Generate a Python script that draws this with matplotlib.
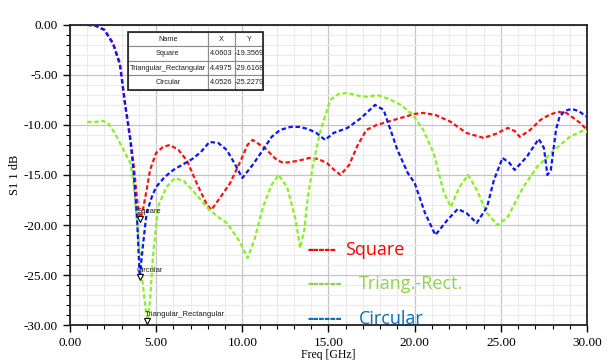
import numpy as np
import matplotlib
matplotlib.use("Agg")
import matplotlib.pyplot as plt
from matplotlib.ticker import MultipleLocator, FormatStrFormatter

# Square patch: S11 (dB) vs frequency (GHz)
sq_f = [1.0, 1.5, 2.0, 2.5, 2.9, 3.2, 3.5, 3.7, 3.9, 4.06, 4.2, 4.45, 4.65, 5.0,
        5.4, 5.8, 6.3, 6.8, 7.4, 7.9, 8.2, 8.7, 9.3, 9.9, 10.3, 10.6, 11.3, 12.0,
        12.4, 13.2, 13.9, 14.4, 14.9, 15.4, 15.7, 16.2, 16.7, 17.2, 17.8, 18.4,
        19.2, 20.0, 20.5, 21.2, 22.1, 23.0, 24.0, 24.7, 25.4, 25.8, 26.1, 26.7,
        27.3, 27.8, 28.3, 28.8, 29.2, 29.6, 30.0]
sq_db = [0.0, -0.1, -0.5, -1.8, -3.8, -7.8, -11.2, -14.0, -17.5, -19.36, -18.8,
         -16.5, -14.5, -12.8, -12.2, -12.0, -12.5, -13.6, -16.0, -17.8, -18.5,
         -17.3, -15.8, -13.6, -12.0, -11.5, -12.3, -13.5, -13.8, -13.6, -13.3,
         -13.4, -13.8, -14.6, -15.0, -14.0, -12.0, -10.5, -10.0, -9.7, -9.3, -8.9,
         -8.8, -9.0, -9.7, -10.8, -11.3, -10.9, -10.3, -10.6, -11.2, -10.5, -9.5,
         -9.0, -8.7, -8.8, -9.3, -9.8, -10.5]

# Triangular_Rectangular patch
tr_f = [1.0, 1.5, 1.9, 2.2, 2.6, 2.9, 3.2, 3.5, 3.7, 3.95, 4.2, 4.4, 4.5, 4.65,
        4.8, 5.1, 5.6, 6.1, 6.6, 7.1, 7.6, 8.1, 8.6, 9.1, 9.6, 9.9, 10.3, 10.7,
        11.2, 11.7, 12.1, 12.6, 13.1, 13.35, 13.6, 13.8, 14.1, 14.5, 15.1, 15.6,
        16.1, 16.8, 17.3, 17.8, 18.5, 19.2, 19.9, 20.5, 21.1, 21.7, 22.1, 22.6,
        23.1, 23.6, 24.2, 24.8, 25.4, 26.3, 27.1, 28.1, 29.0, 29.7, 30.0]
tr_db = [-9.7, -9.7, -9.6, -9.8, -10.8, -11.8, -12.8, -13.8, -15.8, -20.8, -25.5,
         -28.5, -29.6, -27.5, -23.5, -18.2, -16.2, -15.3, -15.6, -16.5, -17.5,
         -18.5, -19.2, -19.8, -21.0, -21.8, -23.3, -21.5, -18.2, -16.0, -15.0,
         -16.2, -19.5, -22.3, -20.5, -17.2, -14.0, -10.8, -7.5, -6.9, -6.8, -7.1,
         -7.2, -7.0, -7.4, -8.0, -9.0, -10.5, -12.8, -16.8, -18.2, -16.2, -15.0,
         -16.5, -18.8, -20.0, -19.2, -16.2, -14.2, -12.5, -11.2, -10.6, -10.7]

# Circular patch
ci_f = [1.0, 1.5, 2.0, 2.5, 2.9, 3.2, 3.5, 3.7, 3.9, 4.05, 4.25, 4.45, 4.75, 5.0,
        5.5, 6.0, 6.6, 7.1, 7.6, 8.1, 8.6, 9.1, 9.6, 10.0, 10.6, 11.2, 11.7, 12.2,
        12.8, 13.3, 13.8, 14.3, 14.8, 15.3, 16.1, 16.9, 17.7, 18.2, 18.6, 19.0,
        19.6, 20.0, 20.6, 21.2, 21.9, 22.5, 23.0, 23.6, 24.2, 24.6, 25.1, 25.5,
        25.8, 26.5, 27.2, 27.5, 27.7, 27.9, 28.2, 28.4, 28.7, 29.1, 29.5, 30.0]
ci_db = [0.0, -0.1, -0.5, -1.9, -4.0, -8.0, -11.5, -14.8, -19.5, -25.2, -21.8,
         -18.8, -17.2, -16.2, -15.2, -14.5, -13.9, -13.4, -12.7, -11.7, -11.8,
         -12.5, -14.0, -15.3, -14.0, -12.5, -11.2, -10.5, -10.2, -10.2, -10.4,
         -10.8, -11.5, -10.8, -10.3, -9.3, -8.0, -8.5, -10.5, -12.5, -14.8, -15.8,
         -18.8, -21.0, -19.5, -18.4, -18.8, -19.8, -18.2, -15.5, -13.3, -13.8,
         -14.5, -13.2, -11.4, -12.3, -15.0, -14.5, -10.5, -9.2, -8.6, -8.4, -8.6,
         -9.2]

# marker table (minimum of each curve)
names = ["Square", "Triangular_Rectangular", "Circular"]
min_x = [4.0603, 4.4975, 4.0526]
min_y = [-19.3569, -29.6168, -25.2279]

serif = "Liberation Serif"

fig = plt.figure(figsize=(6.08, 3.6), dpi=100)
ax = fig.add_axes([0.115, 0.097, 0.8505, 0.834])

dash = (2.0, 1.2)
ax.plot(sq_f, sq_db, color="#ff1010", lw=1.6, dashes=dash, zorder=3)
ax.plot(tr_f, tr_db, color="#88f020", lw=1.6, dashes=dash, zorder=3)
ax.plot(ci_f, ci_db, color="#0a14ff", lw=1.6, dashes=dash, zorder=4)

# minimum markers with their names
for n, x, y in zip(names, min_x, min_y):
    ax.plot(x, y, marker="v", ms=4, mfc="white", mec="black", mew=0.8, zorder=6)
    ax.annotate(n, (x, y), xytext=(-2, 4), textcoords="offset points",
                fontsize=5.5, color="#202020", family="Liberation Sans", zorder=7)

ax.set_xlim(0, 30)
ax.set_ylim(-30, 0)
ax.xaxis.set_major_locator(MultipleLocator(5))
ax.xaxis.set_minor_locator(MultipleLocator(1))
ax.yaxis.set_major_locator(MultipleLocator(5))
ax.yaxis.set_minor_locator(MultipleLocator(1))
ax.xaxis.set_major_formatter(FormatStrFormatter("%.2f"))
ax.yaxis.set_major_formatter(FormatStrFormatter("%.2f"))
ax.grid(which="minor", color="#ebebeb", lw=0.8, zorder=0)
ax.grid(which="major", color="#c4c4c4", lw=0.9, zorder=1)
ax.tick_params(which="major", direction="out", length=5, width=1, colors="black",
               labelsize=9.5)
ax.tick_params(which="minor", direction="out", length=3, width=0.8, colors="black")
for lab in ax.get_xticklabels() + ax.get_yticklabels():
    lab.set_family(serif)
for s in ax.spines.values():
    s.set_linewidth(1.3)
    s.set_color("#222222")

ax.set_xlabel("Freq [GHz]", family=serif, fontsize=8.5, labelpad=0)
ax.set_ylabel("S1 1 dB", family=serif, fontsize=9, labelpad=2)

# table with marker values
rows = [["Name", "X", "Y"]] + [[n, "%.4f" % x, "%.4f" % y]
                               for n, x, y in zip(names, min_x, min_y)]
tab = ax.table(cellText=rows, cellLoc="center", colWidths=[0.155, 0.052, 0.054],
               bbox=[0.112, 0.783, 0.261, 0.194], zorder=8)
tab.auto_set_font_size(False)
tab.set_fontsize(5.3)
for (r, c), cell in tab.get_celld().items():
    cell.set_edgecolor("#8a8a8a")
    cell.set_linewidth(0.8)
    cell.set_facecolor("white")
    cell.get_text().set_family("Liberation Sans")
    cell.get_text().set_color("#202020")
outer = plt.Rectangle((0.112, 0.783), 0.261, 0.194, transform=ax.transAxes,
                      fill=False, ec="#222222", lw=1.2, zorder=9)
ax.add_patch(outer)

# hand-made legend
leg_font = "Open Sans"
legend_rows = [("-----", 345, 255, "Square", "#ff0000"),
               ("------", 359, 289, "Triang.-Rect.", "#92d050"),
               ("------", 359, 324, "Circular", "#0070c0")]
for dashes_txt, x_word, y_base, word, col in legend_rows:
    fig.text(307 / 608, 1 - y_base / 360, dashes_txt, color=col, fontsize=13,
             family=leg_font, weight="bold")
    fig.text(x_word / 608, 1 - y_base / 360, word, color=col, fontsize=13,
             family=leg_font)

fig.savefig("out.png", dpi=100)
